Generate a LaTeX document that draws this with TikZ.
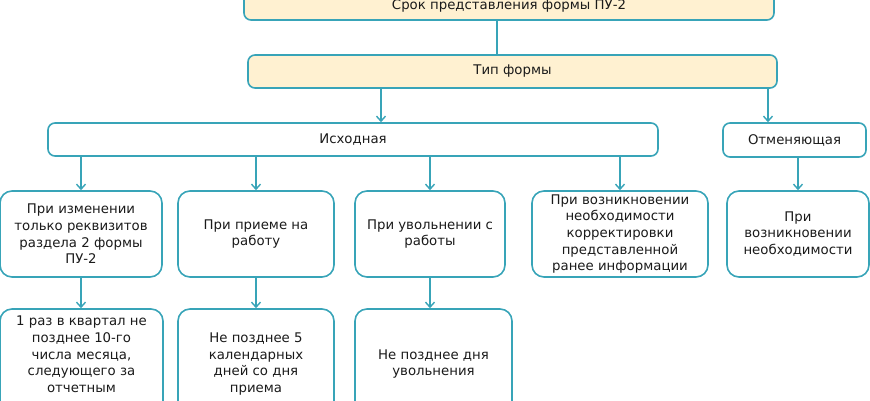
\documentclass[tikz,border=0pt]{standalone}
\usepackage{fontspec}
\setmainfont{DejaVu Sans}
\usepackage{xcolor}
\usetikzlibrary{arrows.meta,positioning,calc}
\definecolor{frame}{RGB}{56,164,184}
\definecolor{cream}{RGB}{255,241,209}
\definecolor{ink}{RGB}{26,26,26}

\begin{document}
\begin{tikzpicture}[
        x=1pt, y=-1pt,
        box/.style={rectangle, rounded corners=7pt, draw=frame, line width=1.6pt, align=center, inner sep=0pt, text=ink, font=\fontsize{13.3}{16.7}\selectfont},
        head/.style={box, fill=cream},
        card/.style={box, rounded corners=12pt, minimum height=86pt},
        note/.style={box, rounded corners=12pt, minimum height=110pt},
        link/.style={-{Straight Barb[length=5pt,width=9pt]}, line width=1.4pt, draw=frame}
    ]
    \useasboundingbox (0,0) rectangle (870,400);
    \clip (0,0) rectangle (870,400);

    % Header boxes
    \node[head, minimum width=530pt, minimum height=29pt] (srok) at (509,5.5) {Срок представления формы ПУ-2};
    \node[head, minimum width=529pt, minimum height=33pt] (tip) at (512.5,71.5) {Тип формы};

    % Form types
    \node[box, minimum width=610pt, minimum height=33pt] (isx) at (353,139.5) {Исходная};
    \node[box, minimum width=143pt, minimum height=34pt] (otm) at (794.5,140) {Отменяющая};

    % Cases
    \node[card, minimum width=162pt] (izm) at (81,234) {При изменении\\только реквизитов\\раздела 2 формы\\ПУ-2};
    \node[card, minimum width=156pt] (priem) at (256,234) {При приеме на\\работу};
    \node[card, minimum width=150pt] (uvol) at (430,234) {При увольнении с\\работы};
    \node[card, minimum width=176pt] (korr) at (620,234) {При возникновении\\необходимости\\корректировки\\представленной\\ранее информации};
    \node[card, minimum width=142pt] (neobx) at (798,234) {При\\возникновении\\необходимости};

    % Deadlines
    \node[note, minimum width=163pt] (kv) at (81.5,364) {1 раз в квартал не\\позднее 10-го\\числа месяца,\\следующего за\\отчетным\\кварталом};
    \node[note, minimum width=156pt] (pr5) at (256,364) {Не позднее 5\\календарных\\дней со дня\\приема};
    \node[note, minimum width=157pt] (den) at (433.5,364) {Не позднее дня\\увольнения};

    % Connectors
    \draw[frame, line width=1.4pt] ([xshift=-12pt]srok.south) -- ([xshift=-15.5pt]tip.north);
    \draw[link] ([xshift=-131.5pt]tip.south) -- ([xshift=28pt]isx.north);
    \draw[link] ([xshift=255.5pt]tip.south) -- ([xshift=-26.5pt]otm.north);

    \draw[link] (isx.south -| izm.north) -- (izm.north);
    \draw[link] (isx.south -| priem.north) -- (priem.north);
    \draw[link] (isx.south -| uvol.north) -- (uvol.north);
    \draw[link] (isx.south -| korr.north) -- (korr.north);
    \draw[link] (otm.south -| neobx.north) -- (neobx.north);

    \draw[link] (izm.south) -- (kv.north -| izm.south);
    \draw[link] (priem.south) -- (pr5.north);
    \draw[link] (uvol.south) -- (den.north -| uvol.south);

\end{tikzpicture}
\end{document}
